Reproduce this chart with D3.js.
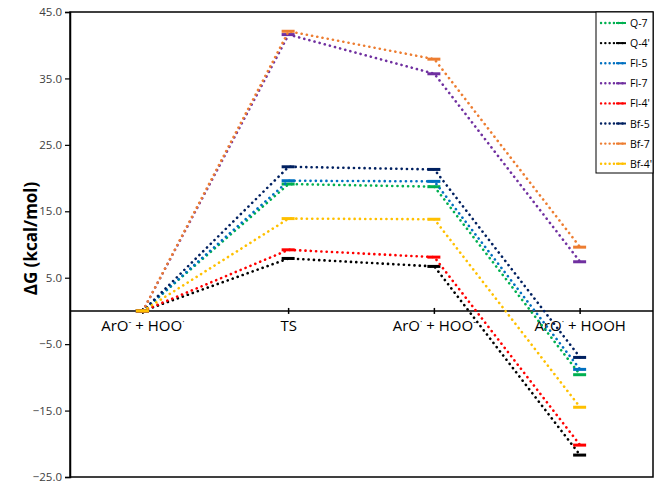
<!DOCTYPE html>
<html><head><meta charset="utf-8">
<script src="https://cdn.jsdelivr.net/npm/d3@7"></script>
<style>body{margin:0;background:#fff;} svg{display:block;} text{font-family:"Open Sans","Liberation Sans",sans-serif;}</style>
</head><body>
<svg id="c" width="661" height="488"></svg>
<script>
const categories = ["c0","c1","c2","c3"];
const seriesNames = ["Q-7","Q-4'","Fl-5","Fl-7","Fl-4'","Bf-5","Bf-7","Bf-4'"];
const seriesColors = ["#00B050","#000000","#0070C0","#7030A0","#FF0000","#002060","#ED7D31","#FFC000"];
const q7  = [0, 19.1, 18.7, -9.6];
const q4  = [0, 7.9, 6.7, -21.7];
const fl5 = [0, 19.6, 19.5, -8.8];
const fl7 = [0, 41.6, 35.7, 7.4];
const fl4 = [0, 9.2, 8.1, -20.2];
const bf5 = [0, 21.7, 21.3, -7.0];
const bf7 = [0, 42.1, 37.9, 9.6];
const bf4 = [0, 13.9, 13.8, -14.5];
const seriesValues = [q7, q4, fl5, fl7, fl4, bf5, bf7, bf4];
const yTicks = [45, 35, 25, 15, 5, -5, -15, -25];

const svg = d3.select("#c");
const L = 70, R = 653, T = 12, B = 477;
const x = d3.scaleBand().domain(categories).range([L, R]);
const xc = c => x(c) + x.bandwidth() / 2;
const y = d3.scaleLinear().domain([-25, 45]).range([B, T]);

// plot border
svg.append("rect").attr("x", L).attr("y", T).attr("width", R - L).attr("height", B - T)
  .attr("fill", "none").attr("stroke", "#000").attr("stroke-width", 1.5);

// y axis
const yAxis = d3.axisLeft(y).tickValues(yTicks).tickFormat(d3.format(".1f")).tickSize(5).tickPadding(3);
const ya = svg.append("g").attr("transform", `translate(${L},0)`).call(yAxis);
ya.select(".domain").attr("stroke", "#000").attr("stroke-width", 1.5);
ya.selectAll(".tick line").attr("stroke", "#000").attr("stroke-width", 1.2);
ya.selectAll(".tick text").attr("font-size", 11.5).attr("fill", "#404040");

// zero axis
svg.append("line").attr("x1", L).attr("x2", R).attr("y1", y(0)).attr("y2", y(0))
  .attr("stroke", "#000").attr("stroke-width", 1.5);
svg.selectAll(".xt").data(categories).enter().append("line")
  .attr("x1", d => xc(d)).attr("x2", d => xc(d)).attr("y1", y(0) - 3).attr("y2", y(0) + 3)
  .attr("stroke", "#000").attr("stroke-width", 1.5);

// category labels
const catLabels = [
  [["ArO",0],["-",1],[" + HOO",0],["·",1]],
  [["TS",0]],
  [["ArO",0],["·",1],[" + HOO",0],["-",1]],
  [["ArO",0],["·",1],[" + HOOH",0]]
];
categories.forEach((c, i) => {
  const t = svg.append("text").attr("x", xc(c)).attr("y", y(0) + 20).attr("text-anchor", "middle")
    .attr("font-size", 15).attr("fill", "#000");
  catLabels[i].forEach(([s, sup]) => {
    if (sup) t.append("tspan").attr("font-size", 9).attr("baseline-shift", "super").text(s);
    else t.append("tspan").text(s);
  });
});

// y label
svg.append("text").attr("transform", `translate(37,${(T + B) / 2 - 6}) rotate(-90)`)
  .attr("text-anchor", "middle").attr("font-size", 17).attr("font-weight", "bold").text("ΔG (kcal/mol)");

// series
const line = d3.line().x((d, i) => xc(categories[i])).y(d => y(d));
seriesValues.forEach((vals, si) => {
  const col = seriesColors[si];
  svg.append("path").attr("d", line(vals)).attr("fill", "none").attr("stroke", col)
    .attr("stroke-width", 2.6).attr("stroke-linecap", "round").attr("stroke-dasharray", "0.1 5.2");
  svg.selectAll(null).data(vals).enter().append("line")
    .attr("x1", (d, i) => xc(categories[i]) - 7).attr("x2", (d, i) => xc(categories[i]) + 6)
    .attr("y1", d => y(d)).attr("y2", d => y(d))
    .attr("stroke", col).attr("stroke-width", 3);
});

// legend
const lx = 596, ly = 12;
svg.append("rect").attr("x", lx).attr("y", ly).attr("width", R - lx).attr("height", 161)
  .attr("fill", "#fff").attr("stroke", "#000").attr("stroke-width", 1);
seriesNames.forEach((n, i) => {
  const yy = ly + 11 + i * 20.1;
  const col = seriesColors[i];
  svg.append("line").attr("x1", 601).attr("x2", 626).attr("y1", yy).attr("y2", yy)
    .attr("stroke", col).attr("stroke-width", 2.4).attr("stroke-linecap", "round").attr("stroke-dasharray", "0.1 4.2");
  svg.append("line").attr("x1", 616).attr("x2", 626).attr("y1", yy).attr("y2", yy)
    .attr("stroke", col).attr("stroke-width", 2);
  svg.append("text").attr("x", 630).attr("y", yy + 4).attr("font-size", 10.5).attr("fill", "#000").text(n);
});
</script>
</body></html>
